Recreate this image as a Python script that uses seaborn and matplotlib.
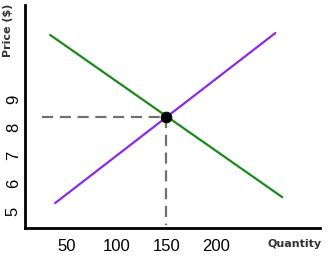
import matplotlib
matplotlib.use("Agg")
import matplotlib.pyplot as plt
import seaborn as sns
import pandas as pd

# Data
demand_q = [33, 267]
demand_p = [11.29, 5.5]
supply_q = [38, 260]
supply_p = [5.29, 11.36]
eq_q = 150
eq_p = 8.36
x_ticks = [50, 100, 150, 200]
y_ticks = [5, 6, 7, 8, 9]

sns.set_style("white")
plt.rcParams["font.family"] = ["Liberation Sans", "DejaVu Sans"]
fig = plt.figure(figsize=(3.29, 2.56), dpi=100)
ax = fig.add_axes([25/329, 1-228/256, (320-25)/329, (228-5)/256])

df_d = pd.DataFrame({"q": demand_q, "p": demand_p})
df_s = pd.DataFrame({"q": supply_q, "p": supply_p})
sns.lineplot(data=df_d, x="q", y="p", ax=ax, color="#1b8a1b", linewidth=1.6)
sns.lineplot(data=df_s, x="q", y="p", ax=ax, color="#8b2be2", linewidth=1.6)

ax.plot([25, eq_q], [eq_p, eq_p], ls=(0, (5, 3)), color="#707070", lw=1.6)
ax.plot([eq_q, eq_q], [eq_p, 4.5], ls=(0, (5, 3)), color="#707070", lw=1.6)
sns.scatterplot(x=[eq_q], y=[eq_p], ax=ax, color="black", s=60, zorder=5, edgecolor="black")

ax.set_xlim(7.6, 305)
ax.set_ylim(4.4, 12.36)
ax.set_xticks(x_ticks)
ax.set_yticks(y_ticks)
ax.set_xticklabels([str(v) for v in x_ticks], fontsize=12, color="black")
ax.set_yticklabels([str(v) for v in y_ticks], fontsize=12, rotation=90, va="center", color="black")
ax.tick_params(axis="x", length=0, pad=8)
ax.tick_params(axis="y", length=0, pad=3)
ax.set_xlabel("")
ax.set_ylabel("")
for s in ["top", "right"]:
    ax.spines[s].set_visible(False)
for s in ["left", "bottom"]:
    ax.spines[s].set_color("black")
    ax.spines[s].set_linewidth(2)

fig.text(8/329, 1-30/256, "Price ($)", rotation=90, ha="center", va="center",
         fontsize=8, fontweight="bold", color="#333333", family="DejaVu Sans")
fig.text(295/329, 1-244/256, "Quantity", ha="center", va="center",
         fontsize=8, fontweight="bold", color="#333333", family="DejaVu Sans")

fig.savefig("out.png", dpi=100)
